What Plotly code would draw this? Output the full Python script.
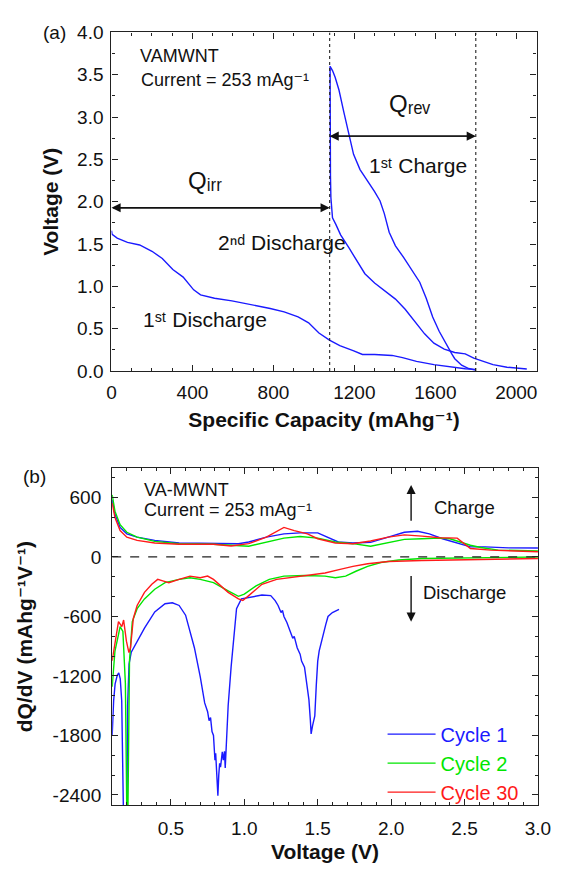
import plotly.graph_objects as go

W, H = 565, 873
FONT = "Arial, Liberation Sans, DejaVu Sans, sans-serif"

# ---------------- Panel (a) data ----------------
dis1_cap = [0, 3, 28, 79, 139, 200, 251, 303, 354, 406, 440, 509, 595, 681, 784, 853, 922, 974,
            1025, 1077, 1128, 1197, 1240, 1300, 1386, 1438, 1507, 1593, 1679, 1748, 1798]
dis1_v = [1.66, 1.615, 1.57, 1.52, 1.49, 1.415, 1.33, 1.20, 1.11, 0.96, 0.90, 0.86, 0.83, 0.79, 0.74,
          0.70, 0.64, 0.57, 0.45, 0.365, 0.30, 0.24, 0.196, 0.196, 0.185, 0.16, 0.115, 0.077, 0.046,
          0.027, 0.02]

chg1_cap = [1080, 1092, 1105, 1124, 1148, 1172, 1196, 1228, 1268, 1300, 1327, 1348, 1372, 1403, 1444,
            1483, 1523, 1555, 1587, 1619, 1643, 1662, 1682, 1696, 1730, 1765, 1798]
chg1_v = [3.60, 3.55, 3.47, 3.32, 3.06, 2.80, 2.56, 2.38, 2.24, 2.12, 2.01, 1.86, 1.64, 1.48, 1.34,
          1.20, 1.05, 0.86, 0.64, 0.47, 0.36, 0.28, 0.20, 0.146, 0.07, 0.03, 0.012]

dis2_cap = [1080, 1080, 1081, 1082, 1084, 1087, 1092, 1109, 1132, 1172, 1212, 1252, 1300, 1355, 1403,
            1451, 1499, 1547, 1593, 1644, 1696, 1748, 1790, 1833, 1885, 1954, 2052]
dis2_v = [3.60, 3.20, 2.70, 2.30, 2.05, 1.92, 1.81, 1.73, 1.61, 1.46, 1.31, 1.15, 1.04, 0.94, 0.85,
          0.73, 0.58, 0.44, 0.33, 0.26, 0.22, 0.204, 0.154, 0.115, 0.077, 0.046, 0.025]

q_irr_end = 1078
q_rev_end = 1800
q_irr_v = 1.93
q_rev_v = 2.775

# ---------------- Panel (b) data ----------------
c1_chg_v = [0.10, 0.119, 0.154, 0.20, 0.27, 0.39, 0.556, 0.79, 0.96, 1.03, 1.15, 1.27, 1.38, 1.50,
            1.57, 1.64, 1.74, 1.86, 1.98, 2.09, 2.18, 2.26, 2.35, 2.45, 2.54, 2.64, 2.80, 3.00]
c1_chg_q = [577, 430, 298, 233, 200, 167, 141, 134, 134, 151, 200, 233, 243, 243,
            200, 151, 141, 148, 200, 249, 259, 233, 184, 141, 102, 102, 92, 90]

c2_chg_v = [0.10, 0.119, 0.154, 0.20, 0.27, 0.39, 0.556, 0.79, 1.03, 1.15, 1.27, 1.38, 1.50, 1.62,
            1.74, 1.86, 1.98, 2.09, 2.21, 2.33, 2.40, 2.47, 2.54, 2.61, 2.73, 3.00]
c2_chg_q = [626, 462, 325, 249, 200, 157, 134, 128, 108, 151, 190, 207, 190, 151,
            134, 108, 141, 177, 184, 190, 184, 151, 118, 95, 69, 62]

c30_chg_v = [0.10, 0.119, 0.154, 0.20, 0.27, 0.39, 0.556, 0.79, 0.91, 1.03, 1.15, 1.23, 1.27, 1.34,
             1.43, 1.50, 1.62, 1.74, 1.86, 1.98, 2.09, 2.21, 2.33, 2.45, 2.50, 2.54, 2.68, 3.00]
c30_chg_q = [544, 397, 266, 200, 167, 141, 128, 128, 111, 134, 200, 266, 298, 266,
             233, 184, 141, 134, 161, 200, 223, 210, 194, 190, 134, 85, 69, 52]

c1_dis_v = [0.10, 0.11, 0.12, 0.135, 0.145, 0.155, 0.165, 0.172, 0.178, 0.19, 0.20, 0.205, 0.215, 0.23,
            0.27, 0.32, 0.39, 0.46, 0.51, 0.556, 0.60, 0.66, 0.70, 0.73, 0.75, 0.76, 0.77, 0.78,
            0.79, 0.795, 0.80, 0.805, 0.81, 0.815, 0.82, 0.826, 0.832, 0.838, 0.845, 0.85, 0.857,
            0.865, 0.87, 0.875, 0.89, 0.91, 0.93, 0.947, 0.98, 1.03, 1.08, 1.12, 1.18, 1.21, 1.23,
            1.25, 1.26, 1.27, 1.29, 1.31, 1.33, 1.34, 1.36, 1.38, 1.39, 1.41, 1.43, 1.44, 1.45,
            1.455, 1.465, 1.48, 1.49, 1.50, 1.51, 1.525, 1.54, 1.555, 1.57, 1.60, 1.645]
c1_dis_q = [-1800, -1450, -1280, -1190, -1170, -1230, -1450, -1900, -2700, -2750, -2700, -1500, -1080,
            -960, -849, -718, -554, -472, -462, -489, -587, -915, -1210, -1472, -1560, -1650, -1620,
            -1760, -1800, -1950, -2050, -1980, -2100, -2300, -2407, -2200, -2080, -2120, -1980,
            -1964, -2050, -1960, -2128, -1931, -1500, -1111, -750, -521, -423, -407, -395, -384,
            -390, -440, -489, -560, -540, -600, -660, -751, -820, -800, -915, -980, -1050, -1111,
            -1300, -1439, -1650, -1784, -1700, -1603, -1300, -1050, -947, -850, -784, -680, -600,
            -560, -528]

c2_dis_v = [0.10, 0.119, 0.143, 0.154, 0.173, 0.19, 0.20, 0.207, 0.218, 0.237, 0.27, 0.32, 0.39,
            0.46, 0.556, 0.63, 0.70, 0.79, 0.89, 0.96, 1.00, 1.08, 1.17, 1.27, 1.41, 1.55, 1.62,
            1.69, 1.76, 1.84, 1.93, 2.05, 2.21, 2.45, 2.68, 3.00]
c2_dis_q = [-1308, -948, -784, -702, -751, -1276, -2600, -2600, -1046, -652, -521, -423, -325,
            -259, -226, -210, -226, -259, -341, -397, -374, -292, -226, -193, -187, -193, -210,
            -193, -144, -95, -56, -30, -16, -13, -7, 0]

c30_dis_v = [0.10, 0.119, 0.143, 0.166, 0.178, 0.197, 0.214, 0.225, 0.244, 0.27, 0.32, 0.37, 0.41,
             0.45, 0.486, 0.556, 0.63, 0.70, 0.75, 0.79, 0.89, 0.96, 0.99, 1.03, 1.12, 1.22, 1.36,
             1.45, 1.55, 1.645, 1.74, 1.84, 1.98, 2.21, 2.45, 2.68, 3.00]
c30_dis_q = [-1046, -849, -652, -702, -636, -849, -964, -915, -620, -489, -357, -275, -226,
             -243, -259, -226, -193, -210, -193, -226, -357, -423, -439, -390, -275, -226, -200,
             -187, -161, -128, -95, -69, -46, -36, -30, -23, -16]

ytick_vals_b = [-2400, -1800, -1200, -600, 0, 600]
ytick_text_b = ["-2400", "-1800", "-1200", "-600", "0", "600"]

BLUE = "#1a1aff"
GREEN = "#00e600"
RED = "#ff1a1a"

fig = go.Figure()

# Panel (a)
for xs, ys in [(dis1_cap, dis1_v), (chg1_cap, chg1_v), (dis2_cap, dis2_v)]:
    fig.add_trace(go.Scatter(x=xs, y=ys, mode="lines", line=dict(color=BLUE, width=1.4),
                             showlegend=False, xaxis="x", yaxis="y", hoverinfo="skip"))

# Panel (b)
series_b = [
    ("Cycle 1", BLUE, c1_chg_v, c1_chg_q, c1_dis_v, c1_dis_q),
    ("Cycle 2", GREEN, c2_chg_v, c2_chg_q, c2_dis_v, c2_dis_q),
    ("Cycle 30", RED, c30_chg_v, c30_chg_q, c30_dis_v, c30_dis_q),
]
for name, col, cv, cq, dv, dq in series_b:
    fig.add_trace(go.Scatter(x=cv, y=cq, mode="lines", line=dict(color=col, width=1.4),
                             name=f"<span style='color:{col}'>{name}</span>", legendgroup=name,
                             showlegend=True, xaxis="x2", yaxis="y2"))
    fig.add_trace(go.Scatter(x=dv, y=dq, mode="lines", line=dict(color=col, width=1.4),
                             name=name, legendgroup=name, showlegend=False,
                             xaxis="x2", yaxis="y2"))

axis_common = dict(
    showline=True, linecolor="#222", linewidth=1.3, mirror="ticks",
    ticks="inside", ticklen=6, tickwidth=1.2, tickcolor="#222",
    showgrid=False, zeroline=False,
    tickfont=dict(family=FONT, size=19, color="#111"),
)
minor_common = dict(ticks="inside", ticklen=3, tickcolor="#222", tickwidth=1.1)
title_font = dict(family=FONT, size=21, color="#111", weight="bold")

def px_x(p):
    return p / W

def px_y(p):
    return 1 - p / H

fig.update_layout(
    width=W, height=H, margin=dict(l=0, r=0, t=0, b=0),
    paper_bgcolor="white", plot_bgcolor="white",
    font=dict(family=FONT, color="#111"),
    xaxis=dict(axis_common, domain=[px_x(110), px_x(549)], range=[0, 2100], anchor="y",
               tickmode="linear", tick0=0, dtick=400, ticklabelstandoff=4,
               minor=dict(minor_common, dtick=100, tick0=0),
               title=dict(text="Specific Capacity (mAhg⁻¹)", font=title_font, standoff=10)),
    yaxis=dict(axis_common, domain=[px_y(370), px_y(23)], range=[0, 4], anchor="x",
               tickmode="linear", tick0=0, dtick=0.5, tickformat=".1f", ticklabelstandoff=3,
               minor=dict(minor_common, dtick=0.25, tick0=0),
               title=dict(text="Voltage (V)", font=title_font, standoff=12)),
    xaxis2=dict(axis_common, domain=[px_x(110.7), px_x(550.5)], range=[0.1, 3.0], anchor="y2",
                tickmode="linear", tick0=0, dtick=0.5, tickformat=".1f", ticklabelstandoff=6,
                minor=dict(minor_common, dtick=0.1, tick0=0),
                title=dict(text="Voltage (V)", font=title_font, standoff=5)),
    yaxis2=dict(axis_common, domain=[px_y(815), px_y(469)], range=[-2505, 900], anchor="x2",
                tickmode="array", tickvals=ytick_vals_b, ticktext=ytick_text_b, ticklabelstandoff=6,
                minor=dict(minor_common, dtick=200, tick0=0),
                title=dict(text="dQ/dV (mAhg⁻¹V⁻¹)", font=title_font, standoff=14)),
    legend=dict(x=px_x(390), y=px_y(722), xanchor="left", yanchor="top",
                bgcolor="rgba(0,0,0,0)", borderwidth=0, itemwidth=48,
                font=dict(family=FONT, size=20), tracegroupgap=0),
    showlegend=True,
)

# Dotted vertical lines (panel a) and dashed zero line (panel b)
for xv in [q_irr_end, q_rev_end]:
    fig.add_shape(type="line", xref="x", yref="y", x0=xv, x1=xv, y0=0, y1=4,
                  line=dict(color="#222", width=1.1, dash="dot"))
fig.add_shape(type="line", xref="x2", yref="y2", x0=0.1, x1=3.0, y0=0, y1=0,
              line=dict(color="#222", width=1.2, dash="dash"))

# Double arrows
def double_arrow(xr, yr, x0, x1, y):
    for a, b in [(x0, x1), (x1, x0)]:
        fig.add_annotation(xref=xr, yref=yr, axref=xr, ayref=yr, x=b, y=y, ax=a, ay=y,
                           text="", showarrow=True, arrowhead=2, arrowsize=1.3, arrowwidth=1.4,
                           arrowcolor="#111", standoff=0, startstandoff=0)

double_arrow("x", "y", 0, q_irr_end, q_irr_v)
double_arrow("x", "y", q_irr_end, q_rev_end, q_rev_v)

# Vertical arrows panel b
fig.add_annotation(xref="x2", yref="y2", axref="x2", ayref="y2", x=2.136, y=726, ax=2.136, ay=349,
                   text="", showarrow=True, arrowhead=2, arrowsize=1.3, arrowwidth=1.4, arrowcolor="#111")
fig.add_annotation(xref="x2", yref="y2", axref="x2", ayref="y2", x=2.136, y=-652, ax=2.136, ay=-176,
                   text="", showarrow=True, arrowhead=2, arrowsize=1.3, arrowwidth=1.4, arrowcolor="#111")

def text(xr, yr, x, y, t, size, xanchor="center", yanchor="middle", color="#111"):
    fig.add_annotation(xref=xr, yref=yr, x=x, y=y, text=t, showarrow=False,
                       xanchor=xanchor, yanchor=yanchor,
                       font=dict(family=FONT, size=size, color=color))

# Panel labels
text("paper", "paper", px_x(51), px_y(23), "(a)", 19)
text("paper", "paper", px_x(30), px_y(478), "(b)", 19)

# Panel (a) texts
text("x", "y", 129, 3.72, "VAMWNT", 18, xanchor="left")
text("x", "y", 134, 3.44, "Current = 253 mAg⁻¹", 18, xanchor="left")
text("x", "y", 462, 2.25, "Qᵢᵣᵣ", 24)
text("x", "y", 1471, 3.16, "Qᵣₑᵥ", 24)
text("x", "y", 1512, 2.43, "1ˢᵗ Charge", 21)
text("x", "y", 842, 1.52, "2ⁿᵈ Discharge", 21)
text("x", "y", 462, 0.61, "1ˢᵗ Discharge", 21)

# Panel (b) texts
text("x2", "y2", 0.303, 677, "VA-MWNT", 18, xanchor="left")
text("x2", "y2", 0.303, 475, "Current = 253 mAg⁻¹", 18, xanchor="left")
text("x2", "y2", 2.497, 503, "Charge", 18.5)
text("x2", "y2", 2.50, -357, "Discharge", 18.5)

fig.write_html("out.html")
